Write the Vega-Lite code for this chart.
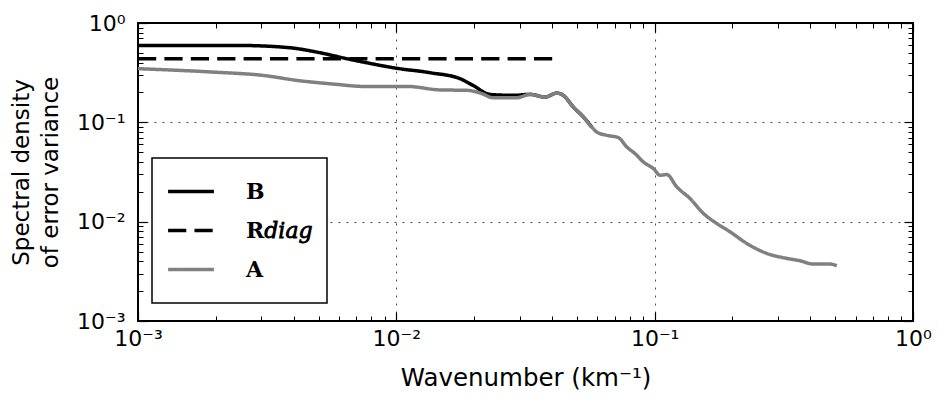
{
  "$schema": "https://vega.github.io/schema/vega-lite/v6.json",
  "autosize": "none",
  "width": 775,
  "height": 298,
  "padding": {"left": 138, "top": 23, "right": 25, "bottom": 75},
  "background": "white",
  "config": {
    "view": {"stroke": "black", "strokeWidth": 2},
    "axis": {"labelFont": "DejaVu Sans", "titleFont": "DejaVu Sans", "labelColor": "black", "titleColor": "black", "titleFontWeight": "normal", "domain": false, "labelFlush": false}
  },
  "data": {
    "values": [
      {"s": "B", "x": 0.001, "y": 0.594},
      {"s": "B", "x": 0.00248, "y": 0.594},
      {"s": "B", "x": 0.00388, "y": 0.563},
      {"s": "B", "x": 0.00493, "y": 0.509},
      {"s": "B", "x": 0.00644, "y": 0.437},
      {"s": "B", "x": 0.00791, "y": 0.392},
      {"s": "B", "x": 0.00998, "y": 0.351},
      {"s": "B", "x": 0.0135, "y": 0.316},
      {"s": "B", "x": 0.01766, "y": 0.275},
      {"s": "B", "x": 0.0198, "y": 0.2355},
      {"s": "B", "x": 0.02306, "y": 0.191},
      {"s": "B", "x": 0.0283, "y": 0.187},
      {"s": "B", "x": 0.03293, "y": 0.1912},
      {"s": "B", "x": 0.03764, "y": 0.1796},
      {"s": "B", "x": 0.04178, "y": 0.197},
      {"s": "B", "x": 0.0443, "y": 0.1868},
      {"s": "B", "x": 0.04843, "y": 0.1425},
      {"s": "B", "x": 0.05297, "y": 0.1131},
      {"s": "B", "x": 0.05707, "y": 0.0897},
      {"s": "R_diag", "x": 0.001, "y": 0.437},
      {"s": "R_diag", "x": 0.0402, "y": 0.437},
      {"s": "A", "x": 0.001, "y": 0.347},
      {"s": "A", "x": 0.00195, "y": 0.3205},
      {"s": "A", "x": 0.00305, "y": 0.2967},
      {"s": "A", "x": 0.00413, "y": 0.2644},
      {"s": "A", "x": 0.00589, "y": 0.241},
      {"s": "A", "x": 0.00743, "y": 0.23},
      {"s": "A", "x": 0.011, "y": 0.23},
      {"s": "A", "x": 0.01476, "y": 0.212},
      {"s": "A", "x": 0.01877, "y": 0.21},
      {"s": "A", "x": 0.0214, "y": 0.195},
      {"s": "A", "x": 0.02366, "y": 0.177},
      {"s": "A", "x": 0.0293, "y": 0.177},
      {"s": "A", "x": 0.03293, "y": 0.1912},
      {"s": "A", "x": 0.03764, "y": 0.1796},
      {"s": "A", "x": 0.04178, "y": 0.197},
      {"s": "A", "x": 0.0443, "y": 0.1868},
      {"s": "A", "x": 0.04843, "y": 0.1425},
      {"s": "A", "x": 0.05297, "y": 0.1131},
      {"s": "A", "x": 0.05707, "y": 0.0897},
      {"s": "A", "x": 0.05968, "y": 0.0799},
      {"s": "A", "x": 0.06525, "y": 0.074},
      {"s": "A", "x": 0.07238, "y": 0.0702},
      {"s": "A", "x": 0.07798, "y": 0.0565},
      {"s": "A", "x": 0.08392, "y": 0.04845},
      {"s": "A", "x": 0.09042, "y": 0.0399},
      {"s": "A", "x": 0.09886, "y": 0.03424},
      {"s": "A", "x": 0.105, "y": 0.02933},
      {"s": "A", "x": 0.1114, "y": 0.02981},
      {"s": "A", "x": 0.1218, "y": 0.02237},
      {"s": "A", "x": 0.1371, "y": 0.0171},
      {"s": "A", "x": 0.1544, "y": 0.01209},
      {"s": "A", "x": 0.1739, "y": 0.00959},
      {"s": "A", "x": 0.1958, "y": 0.0079},
      {"s": "A", "x": 0.2272, "y": 0.00604},
      {"s": "A", "x": 0.2716, "y": 0.00479},
      {"s": "A", "x": 0.3246, "y": 0.00427},
      {"s": "A", "x": 0.3655, "y": 0.00404},
      {"s": "A", "x": 0.4115, "y": 0.00374},
      {"s": "A", "x": 0.4776, "y": 0.00374},
      {"s": "A", "x": 0.507, "y": 0.0036}
    ]
  },
  "resolve": {"axis": {"x": "independent", "y": "independent"}},
  "layer": [
    {
      "transform": [{"filter": "datum.s == 'B'"}],
      "mark": {"type": "line", "strokeWidth": 3.5, "interpolate": "monotone", "clip": true},
      "encoding": {
        "x": {"field": "x", "type": "quantitative", "scale": {"type": "log", "domain": [0.001, 1], "nice": false, "padding": 0},
          "axis": {"orient": "bottom", "values": [0.001, 0.01, 0.1, 1], "ticks": false, "labelFontSize": 22, "labelPadding": 7,
            "labelExpr": "datum.value < 0.005 ? '10⁻³' : datum.value < 0.05 ? '10⁻²' : datum.value < 0.5 ? '10⁻¹' : '10⁰'",
            "title": "Wavenumber (km⁻¹)", "titleFontSize": 24.5, "titlePadding": 17,
            "grid": true, "gridColor": "#000", "gridOpacity": 0.7, "gridDash": [2, 6], "gridWidth": 1}},
        "y": {"field": "y", "type": "quantitative", "scale": {"type": "log", "domain": [0.001, 1], "nice": false, "padding": 0},
          "axis": {"orient": "left", "values": [0.001, 0.01, 0.1, 1], "ticks": false, "labelFontSize": 22, "labelPadding": 13,
            "labelExpr": "datum.value < 0.005 ? '10⁻³' : datum.value < 0.05 ? '10⁻²' : datum.value < 0.5 ? '10⁻¹' : '10⁰'",
            "title": ["Spectral density", "of error variance"], "titleFontSize": 23, "titleLineHeight": 29, "titlePadding": 14,
            "grid": true, "gridColor": "#000", "gridOpacity": 0.7, "gridDash": [2, 6], "gridWidth": 1}},
        "color": {"field": "s", "type": "nominal", "scale": {"domain": ["B", "R_diag", "A"], "range": ["#000000", "#000000", "#808080"]},
          "legend": {"title": null, "orient": "none", "legendX": 14, "legendY": 135, "direction": "vertical",
            "strokeColor": "#000", "fillColor": "white", "cornerRadius": 0, "padding": 14,
            "symbolType": "stroke", "symbolSize": 2100, "symbolStrokeWidth": 3.5,
            "labelFont": "DejaVu Serif", "labelFontWeight": "bold", "labelFontSize": 22, "labelOffset": 30, "rowPadding": 0, "clipHeight": 39,
            "labelExpr": "datum.label == 'R_diag' ? 'R𝑑𝑖𝑎𝑔' : datum.label",
            "encode": {"legend": {"update": {"strokeWidth": {"value": 1.5}}}}}},
        "strokeDash": {"field": "s", "type": "nominal", "scale": {"domain": ["B", "R_diag", "A"], "range": [[1, 0], [18.2, 8.2], [1, 0]]},
          "legend": {"title": null}}
      }
    },
    {
      "transform": [{"filter": "datum.s == 'R_diag'"}],
      "mark": {"type": "line", "strokeWidth": 3.5, "clip": true},
      "encoding": {
        "x": {"field": "x", "type": "quantitative", "scale": {"type": "log", "domain": [0.001, 1], "nice": false, "padding": 0}, "axis": {"orient": "bottom", "values": [0.002,0.003,0.004,0.005,0.006,0.007,0.008,0.009,0.02,0.03,0.04,0.05,0.06,0.07,0.08,0.09,0.2,0.3,0.4,0.5,0.6,0.7,0.8,0.9], "labels": false, "ticks": true, "tickSize": -5, "tickColor": "#000", "tickWidth": 1, "grid": false, "title": null}},
        "y": {"field": "y", "type": "quantitative", "scale": {"type": "log", "domain": [0.001, 1], "nice": false, "padding": 0}, "axis": {"orient": "left", "values": [0.002,0.003,0.004,0.005,0.006,0.007,0.008,0.009,0.02,0.03,0.04,0.05,0.06,0.07,0.08,0.09,0.2,0.3,0.4,0.5,0.6,0.7,0.8,0.9], "labels": false, "ticks": true, "tickSize": -5, "tickColor": "#000", "tickWidth": 1, "grid": false, "title": null}},
        "color": {"field": "s", "type": "nominal"},
        "strokeDash": {"field": "s", "type": "nominal"}
      }
    },
    {
      "transform": [{"filter": "datum.s == 'A'"}],
      "mark": {"type": "line", "strokeWidth": 3.5, "interpolate": "monotone", "clip": true},
      "encoding": {
        "x": {"field": "x", "type": "quantitative", "scale": {"type": "log", "domain": [0.001, 1], "nice": false, "padding": 0}, "axis": {"orient": "top", "values": [0.002,0.003,0.004,0.005,0.006,0.007,0.008,0.009,0.02,0.03,0.04,0.05,0.06,0.07,0.08,0.09,0.2,0.3,0.4,0.5,0.6,0.7,0.8,0.9], "labels": false, "ticks": true, "tickSize": -5, "tickColor": "#000", "tickWidth": 1, "grid": false, "title": null}},
        "y": {"field": "y", "type": "quantitative", "scale": {"type": "log", "domain": [0.001, 1], "nice": false, "padding": 0}, "axis": {"orient": "right", "values": [0.002,0.003,0.004,0.005,0.006,0.007,0.008,0.009,0.02,0.03,0.04,0.05,0.06,0.07,0.08,0.09,0.2,0.3,0.4,0.5,0.6,0.7,0.8,0.9], "labels": false, "ticks": true, "tickSize": -5, "tickColor": "#000", "tickWidth": 1, "grid": false, "title": null}},
        "color": {"field": "s", "type": "nominal"},
        "strokeDash": {"field": "s", "type": "nominal"}
      }
    },
    {
      "mark": {"type": "point", "opacity": 0},
      "encoding": {
        "x": {"field": "x", "type": "quantitative", "scale": {"type": "log", "domain": [0.001, 1], "nice": false, "padding": 0}, "axis": {"orient": "bottom", "values": [0.001, 0.01, 0.1, 1], "labels": false, "ticks": true, "tickSize": -9, "tickColor": "#000", "tickWidth": 1.2, "grid": false, "title": null}},
        "y": {"field": "y", "type": "quantitative", "scale": {"type": "log", "domain": [0.001, 1], "nice": false, "padding": 0}, "axis": {"orient": "left", "values": [0.001, 0.01, 0.1, 1], "labels": false, "ticks": true, "tickSize": -9, "tickColor": "#000", "tickWidth": 1.2, "grid": false, "title": null}}
      }
    },
    {
      "mark": {"type": "point", "opacity": 0},
      "encoding": {
        "x": {"field": "x", "type": "quantitative", "scale": {"type": "log", "domain": [0.001, 1], "nice": false, "padding": 0}, "axis": {"orient": "top", "values": [0.001, 0.01, 0.1, 1], "labels": false, "ticks": true, "tickSize": -9, "tickColor": "#000", "tickWidth": 1.2, "grid": false, "title": null}},
        "y": {"field": "y", "type": "quantitative", "scale": {"type": "log", "domain": [0.001, 1], "nice": false, "padding": 0}, "axis": {"orient": "right", "values": [0.001, 0.01, 0.1, 1], "labels": false, "ticks": true, "tickSize": -9, "tickColor": "#000", "tickWidth": 1.2, "grid": false, "title": null}}
      }
    }
  ]
}
